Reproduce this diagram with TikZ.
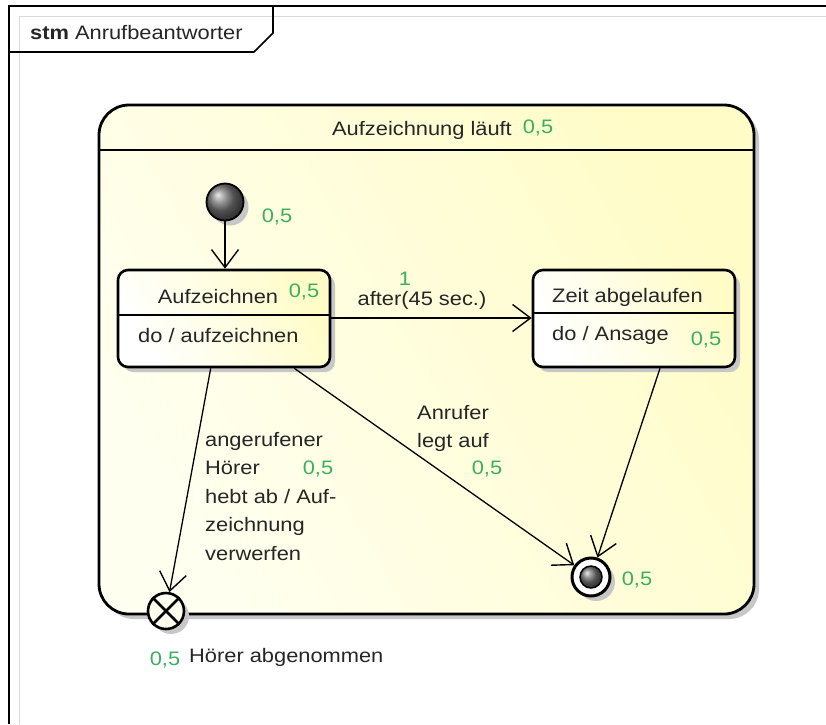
\documentclass[tikz,border=0pt]{standalone}
\usepackage{fontspec}
\setmainfont[FakeStretch=1.12]{Liberation Sans}
\usetikzlibrary{arrows.meta,shadows}
\definecolor{umlgreen}{RGB}{60,175,95}
\definecolor{fillY}{RGB}{255,252,200}
\definecolor{fillYl}{RGB}{255,255,240}
\tikzset{
  txt/.style={inner sep=0pt, font=\fontsize{19.5}{22}\selectfont, text=black!85},
  grn/.style={inner sep=0pt, font=\fontsize{19.5}{22}\selectfont, text=umlgreen},
  shad/.style={drop shadow={shadow xshift=5pt, shadow yshift=-5pt, fill=black!22, opacity=1}},
  stbox/.style={draw, line width=2.6pt, rounded corners=10pt, shad,
    left color=white, right color=fillY, shading angle=120},
  compbox/.style={draw, line width=2.8pt, rounded corners=30pt, shad,
    left color=fillYl, right color=fillY, shading angle=120},
  trans/.style={line width=1.3pt, -{Straight Barb[length=18pt,width=27pt,line width=1.4pt]}},
}
\begin{document}
\begin{tikzpicture}[x=1pt,y=-1pt]
\useasboundingbox (0,0) rectangle (826,724);
\fill[white] (0,0) rectangle (826,724);
% frame
\draw[black!15, line width=1pt] (19,724) -- (19,16) -- (826,16);
\draw[line width=1.6pt] (9,724) -- (9,6) -- (826,6);
\draw[line width=1.6pt] (9,52) -- (254,52) -- (273,33) -- (273,6);
\node[txt, anchor=west] (title) at (30,33) {\textbf{stm} Anrufbeantworter};
% composite state
\node[compbox, minimum width=655pt, minimum height=509pt] (comp) at (426.5,359.5) {};
\draw[line width=1.3pt] (comp.west |- 0,150) -- (comp.east |- 0,150);
\node[txt] (comptitle) at (422,130) {Aufzeichnung läuft};
\node[grn] (compn) at (538,128) {0,5};
% initial
\node[circle, minimum size=37pt, draw, line width=1.8pt, ball color=black!55, shad] (init) at (225,202) {};
\node[grn] (initn) at (277,217) {0,5};
% states
\node[stbox, minimum width=212pt, minimum height=97pt] (aufz) at (224,318.5) {};
\draw[line width=1.3pt] (aufz.west |- 0,315) -- (aufz.east |- 0,315);
\node[txt] (aufzt) at (218,297) {Aufzeichnen};
\node[grn] (aufzn) at (304,292) {0,5};
\node[txt, anchor=west] (aufzdo) at (138,336) {do / aufzeichnen};
\node[stbox, minimum width=202pt, minimum height=97pt] (zeit) at (634,318.5) {};
\draw[line width=1.3pt] (zeit.west |- 0,313) -- (zeit.east |- 0,313);
\node[txt, anchor=west] (zeitt) at (552,297) {Zeit abgelaufen};
\node[txt, anchor=west] (zeitdo) at (552,335) {do / Ansage};
\node[grn] (zeitn) at (706,340) {0,5};
% final
\node[circle, minimum size=38pt, draw, line width=3pt, fill=white, shad] (final) at (591,577) {};
\node[circle, minimum size=22pt, draw, line width=1.5pt, ball color=black!55] (finalin) at (591,577) {};
\node[grn] (finaln) at (637,580) {0,5};
% exit point
\node[circle, minimum size=36pt, draw, line width=2.6pt, fill=fillYl, shad] (exit) at (166,611) {};
\draw[line width=2.6pt] (exit.north west) -- (exit.south east) (exit.north east) -- (exit.south west);
\node[grn] (exitn) at (165,660) {0,5};
\node[txt, anchor=west] (exitt) at (189,657) {Hörer abgenommen};
% transitions
\draw[trans] (init) -- (aufz.north -| init);
\draw[trans] (aufz.east |- 0,318) -- (zeit.west |- 0,318);
\node[txt] (afterl) at (422,300) {after(45 sec.)};
\node[grn] (aftern) at (405,279) {1};
\draw[trans] ([xshift=94pt]aufz.south west) -- (exit);
\node[txt, anchor=north west, align=left, font=\fontsize{19.5}{28.5}\selectfont] (hoerl) at (205,432)
  {angerufener\\Hörer\\hebt ab / Auf-\\zeichnung\\verwerfen};
\node[grn] (hoern) at (318,469) {0,5};
\draw[trans] ([xshift=-37pt]aufz.south east) -- (final);
\node[txt, anchor=north west, align=left, font=\fontsize{19.5}{28}\selectfont] (anrl) at (417,405)
  {Anrufer\\legt auf};
\node[grn] (anrn) at (487,469) {0,5};
\draw[trans] ([xshift=26pt]zeit.south) -- (final);
\end{tikzpicture}
\end{document}
